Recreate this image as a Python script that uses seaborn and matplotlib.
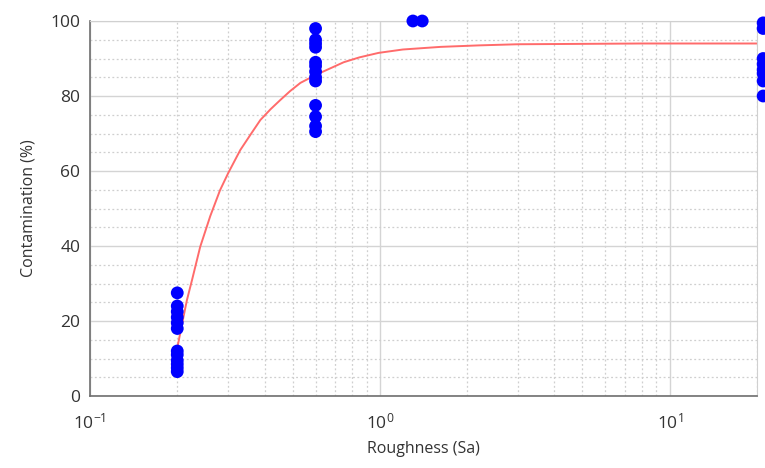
import numpy as np
import pandas as pd
import matplotlib
matplotlib.use("Agg")
import matplotlib.pyplot as plt
import seaborn as sns
from matplotlib.ticker import LogLocator, MultipleLocator

# measured points (roughness Sa vs contamination %)
rough_02 = [27.5, 24, 22.5, 21, 19.5, 18, 12, 11, 9.5, 8.5, 7.5, 6.5]
rough_06 = [98, 95, 94, 93, 89, 88, 86.5, 85, 84, 77.5, 74.5, 72, 70.5]
rough_13 = [100]
rough_14 = [100]
rough_21 = [99.5, 98, 90, 88.5, 87, 86, 84, 80]

# fitted curve
fit_x = [0.2, 0.21, 0.216, 0.225, 0.24, 0.26, 0.281, 0.3, 0.33, 0.36, 0.387, 0.42,
         0.453, 0.49, 0.532, 0.6, 0.68, 0.75, 0.85, 0.99, 1.2, 1.62, 2.2, 3, 5, 8, 21]
fit_y = [12.8, 21.0, 25.6, 31.0, 39.8, 48.0, 54.9, 59.5, 65.6, 70.0, 73.6, 76.5,
         78.9, 81.3, 83.5, 85.6, 87.5, 89.0, 90.3, 91.5, 92.4, 93.1, 93.5, 93.8, 93.9, 94, 94]

pts = pd.DataFrame({
    "Sa": [0.2] * len(rough_02) + [0.6] * len(rough_06) + [1.3] * len(rough_13)
          + [1.4] * len(rough_14) + [21] * len(rough_21),
    "cont": rough_02 + rough_06 + rough_13 + rough_14 + rough_21,
})
fit = pd.DataFrame({"Sa": fit_x, "cont": fit_y})

sns.set_style("white")
plt.rcParams["font.family"] = ["Open Sans", "DejaVu Sans"]

fig = plt.figure(figsize=(7.65, 4.68), dpi=100)
ax = fig.add_axes([90 / 765, 72 / 468, 667 / 765, 375 / 468])

ax.set_xscale("log")
ax.set_xlim(0.1, 20)
ax.set_ylim(0, 100)

ax.yaxis.set_major_locator(MultipleLocator(20))
ax.yaxis.set_minor_locator(MultipleLocator(5))
ax.xaxis.set_major_locator(LogLocator(base=10))
ax.xaxis.set_minor_locator(LogLocator(base=10, subs=np.arange(2, 10)))

ax.grid(True, which="major", color="#d4d4d4", linewidth=1.0)
ax.grid(True, which="minor", color="#cfcfcf", linewidth=0.9, linestyle=(0, (1.5, 2)))
ax.set_axisbelow(True)

sns.lineplot(data=fit, x="Sa", y="cont", ax=ax, color="#ff6b6b", linewidth=1.4,
             sort=False, estimator=None, zorder=2)
sns.scatterplot(data=pts, x="Sa", y="cont", ax=ax, color="#0000ff", s=85,
                edgecolor="none", zorder=3, clip_on=False)

for side in ["left", "bottom"]:
    ax.spines[side].set_color("#6e6e6e")
    ax.spines[side].set_linewidth(1.2)
for side in ["top", "right"]:
    ax.spines[side].set_color("#d0d0d0")
    ax.spines[side].set_linewidth(0.8)

ax.tick_params(axis="both", which="major", direction="in", length=5, color="#6e6e6e",
               labelsize=12.5, labelcolor="#333333", pad=7)
ax.tick_params(axis="both", which="minor", direction="in", length=3, color="#8a8a8a")
ax.tick_params(axis="x", which="major", pad=12)

ax.set_xlabel("Roughness (Sa)", fontsize=11.5, color="#333333", labelpad=6)
ax.set_ylabel("Contamination (%)", fontsize=11.5, color="#333333", labelpad=10)

fig.savefig("out.png", dpi=100)
